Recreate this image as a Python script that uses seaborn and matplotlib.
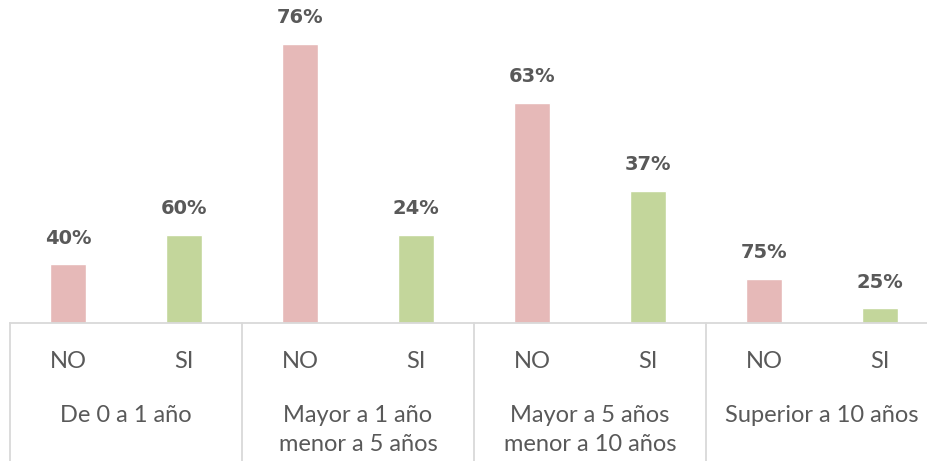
import matplotlib
matplotlib.use("Agg")
import matplotlib.pyplot as plt
import matplotlib.transforms as mtransforms
import pandas as pd
import seaborn as sns

# datos (alturas = conteos, etiquetas = porcentajes)
grupos = ["De 0 a 1 año", "Mayor a 1 año\nmenor a 5 años",
          "Mayor a 5 años\nmenor a 10 años", "Superior a 10 años"]
respuestas = ["NO", "SI"]
conteo_no = [4, 19, 15, 3]
conteo_si = [6, 6, 9, 1]
pct_no = ["40%", "76%", "63%", "75%"]
pct_si = ["60%", "24%", "37%", "25%"]

colores = {"NO": "#E6B9B8", "SI": "#C3D69B"}
gris = "#595959"
linea = "#D9D9D9"

df = pd.DataFrame({
    "grupo": grupos * 2,
    "resp": ["NO"] * 4 + ["SI"] * 4,
    "n": conteo_no + conteo_si,
})

sns.set_style("white")
plt.rcParams["font.family"] = ["Lato", "DejaVu Sans"]

fig = plt.figure(figsize=(9.27, 4.61), dpi=100)
ax = fig.add_axes([10 / 927, 138 / 461, 928 / 927, 323 / 461])

sns.barplot(data=df, x="grupo", y="n", hue="resp", hue_order=respuestas,
            palette=colores, width=1.0, gap=0.69, dodge=True, legend=False,
            saturation=1, ax=ax, order=grupos)

ax.set_xlim(-0.5, 3.5)
ax.set_ylim(0, 22)
for s in ["top", "right", "left"]:
    ax.spines[s].set_visible(False)
ax.spines["bottom"].set_color(linea)
ax.spines["bottom"].set_linewidth(1.3)
ax.set_yticks([])
ax.set_xticks([])
ax.set_xlabel("")
ax.set_ylabel("")

# etiquetas de porcentaje
for cont, labs in zip(ax.containers, [pct_no, pct_si]):
    ax.bar_label(cont, labels=labs, padding=12, fontsize=14, fontweight="bold",
                 color=gris, family=["DejaVu Sans"])

# ejes de categorias en dos niveles
trans = mtransforms.blended_transform_factory(ax.transData, ax.transAxes)
for i, g in enumerate(grupos):
    for j, r in enumerate(respuestas):
        ax.text(i - 0.25 + 0.5 * j, -0.118, r, transform=trans, ha="center",
                va="center", fontsize=17, color=gris)
    ax.text(i, -0.253, g, transform=trans, ha="center", va="top",
            fontsize=17, color=gris, linespacing=1.5)
for i in range(len(grupos) + 1):
    ax.plot([i - 0.5, i - 0.5], [0, -0.5], transform=trans, color=linea,
            lw=1.3, clip_on=False)

fig.savefig("out.png", dpi=100)
